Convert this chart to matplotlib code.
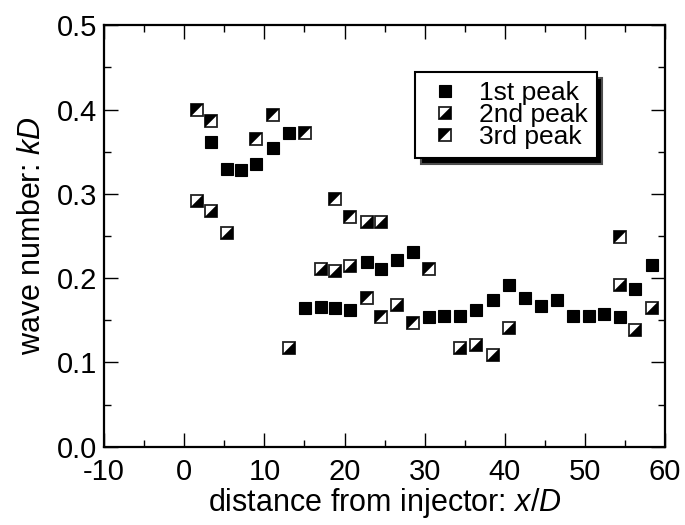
import matplotlib
matplotlib.use("Agg")
import matplotlib.pyplot as plt
from matplotlib.path import Path
from matplotlib.ticker import MultipleLocator, FormatStrFormatter
from matplotlib.legend_handler import HandlerTuple

plt.rcParams['font.family'] = ['Liberation Sans', 'DejaVu Sans']
plt.rcParams['mathtext.fontset'] = 'custom'
plt.rcParams['mathtext.rm'] = 'Liberation Sans'
plt.rcParams['mathtext.it'] = 'Liberation Sans:italic'
plt.rcParams['axes.unicode_minus'] = False

# ---- data ----
x_first = [3.3, 5.3, 7.1, 9.0, 11.1, 13.1, 15.1, 17.0, 18.8, 20.7, 22.8, 24.6, 26.5, 28.6,
           30.5, 32.4, 34.4, 36.4, 38.5, 40.5, 42.5, 44.5, 46.5, 48.5, 50.5, 52.4, 54.4, 56.3, 58.3]
y_first = [0.361, 0.330, 0.328, 0.335, 0.354, 0.372, 0.164, 0.166, 0.164, 0.162, 0.219, 0.211, 0.222, 0.231,
           0.154, 0.155, 0.155, 0.162, 0.174, 0.192, 0.176, 0.167, 0.174, 0.155, 0.155, 0.158, 0.154, 0.187, 0.215]

x_second = [1.6, 3.3, 5.3, 13.1, 17.0, 18.8, 20.7, 22.8, 24.6, 26.5, 34.4, 36.4, 38.5, 40.5, 54.4, 56.3, 58.3]
y_second = [0.291, 0.280, 0.253, 0.117, 0.211, 0.208, 0.214, 0.267, 0.267, 0.168, 0.117, 0.121, 0.109, 0.141,
            0.192, 0.139, 0.164]

x_third = [1.6, 3.3, 9.0, 11.1, 15.1, 18.8, 20.7, 22.8, 24.6, 28.6, 30.5, 54.4]
y_third = [0.400, 0.386, 0.365, 0.393, 0.372, 0.294, 0.272, 0.176, 0.154, 0.147, 0.211, 0.249]

labels = ['1st peak', '2nd peak', '3rd peak']

# ---- marker shapes (half-filled squares split along the diagonal) ----
tri_lower_right = Path([(-1, -1), (1, -1), (1, 1), (-1, -1)], closed=True)
tri_upper_left = Path([(-1, -1), (-1, 1), (1, 1), (-1, -1)], closed=True)

fig = plt.figure(figsize=(6.85, 5.25), dpi=100)
ax = fig.add_axes([0.152, 0.149, 0.819, 0.803])

ms = 9.2
h1, = ax.plot(x_first, y_first, ls='none', marker='s', ms=ms, mfc='black', mec='black', mew=0.8)

h2a, = ax.plot(x_second, y_second, ls='none', marker='s', ms=ms, mfc='white', mec='#222222', mew=1.3)
h2b, = ax.plot(x_second, y_second, ls='none', marker=tri_lower_right, ms=ms, mfc='black', mec='black', mew=0.3)

h3a, = ax.plot(x_third, y_third, ls='none', marker='s', ms=ms, mfc='white', mec='#222222', mew=1.3)
h3b, = ax.plot(x_third, y_third, ls='none', marker=tri_upper_left, ms=ms, mfc='black', mec='black', mew=0.3)

ax.set_xlim(-10, 60)
ax.set_ylim(0.0, 0.5)
ax.xaxis.set_major_locator(MultipleLocator(10))
ax.xaxis.set_minor_locator(MultipleLocator(5))
ax.yaxis.set_major_locator(MultipleLocator(0.1))
ax.yaxis.set_minor_locator(MultipleLocator(0.05))
ax.yaxis.set_major_formatter(FormatStrFormatter('%.1f'))

ax.tick_params(which='both', direction='in', top=True, right=True, width=1.0, labelsize=21, pad=5)
ax.tick_params(axis='x', which='major', pad=8)
ax.tick_params(which='major', length=10)
ax.tick_params(which='minor', length=5)
for s in ax.spines.values():
    s.set_linewidth(1.6)

ax.set_xlabel('distance from injector: $\\mathit{x}$/$\\mathit{D}$', fontsize=22, labelpad=0)
ax.set_ylabel('wave number: $\\mathit{kD}$', fontsize=22, labelpad=7)

leg = ax.legend([h1, (h2a, h2b), (h3a, h3b)], labels,
                handler_map={tuple: HandlerTuple(ndivide=1)},
                loc='upper left', bbox_to_anchor=(0.555, 0.889), fontsize=19,
                frameon=True, fancybox=False, edgecolor='black', framealpha=1,
                shadow={'facecolor': 'black', 'alpha': 1.0, 'ox': 4, 'oy': -4},
                handlelength=1.5, handletextpad=0.55, borderpad=0.35, labelspacing=-0.08,
                borderaxespad=0.0)
leg.get_frame().set_linewidth(1.5)

fig.savefig('out.png', dpi=100)
